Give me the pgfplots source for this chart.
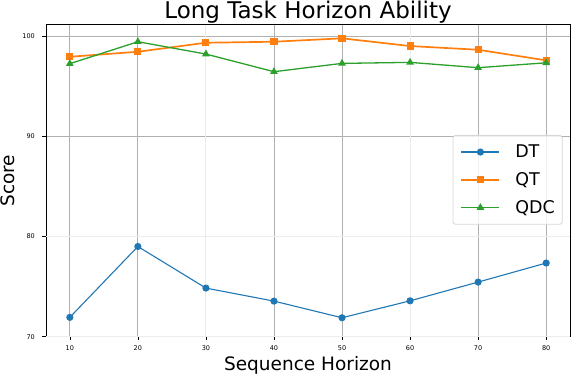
\documentclass[border=0pt]{standalone}
\usepackage{fontspec}
\setmainfont{DejaVu Sans}
\usepackage{pgfplots}
\pgfplotsset{compat=1.18}
\definecolor{tabblue}{HTML}{1F77B4}
\definecolor{taborange}{HTML}{FF7F0E}
\definecolor{tabgreen}{HTML}{2CA02C}
\definecolor{gridgray}{HTML}{B0B0B0}
\definecolor{faintgray}{HTML}{ECECEC}
\definecolor{legendgray}{HTML}{D6D6D6}
\begin{document}
\begin{tikzpicture}
\begin{axis}[
  at={(0,0)}, anchor=south west,
  scale only axis, width=524pt, height=312pt,
  xmin=6.5, xmax=83.5, ymin=70, ymax=101.13,
  xtick={10,20,40,50,70,80}, extra x ticks={30,60},
  ytick={90,100}, extra y ticks={70,80},
  grid=major,
  major grid style={gridgray, line width=0.9pt},
  extra x tick style={major grid style={faintgray, line width=0.9pt}},
  extra y tick style={major grid style={faintgray, line width=0.9pt}},
  tick align=outside, tick pos=left, major tick length=3.5pt,
  tick style={black, line width=0.6pt},
  axis line style={black, line width=0.8pt},
  /pgf/number format/assume math mode=true,
  ticklabel style={font=\fontsize{6.5}{7}\selectfont, inner sep=0pt},
  xticklabel style={anchor=north, yshift=-4.8pt},
  yticklabel style={anchor=east, xshift=-7.5pt},
  title={Long Task Horizon Ability},
  title style={font=\fontsize{23}{27}\selectfont, at={(axis description cs:0.5,1)}, anchor=base, yshift=0.4pt},
  xlabel={Sequence Horizon},
  xlabel style={font=\fontsize{18.5}{22}\selectfont, at={(axis description cs:0.5,-0.1075)}, anchor=base},
  ylabel={Score},
  ylabel style={font=\fontsize{18.5}{22}\selectfont, at={(axis description cs:-0.0735,0.5)}, anchor=center},
  legend cell align=left,
  legend image code/.code={\draw[mark repeat=2, mark phase=2, fill opacity=1, #1] plot coordinates {(0pt,0pt) (19pt,0pt) (38pt,0pt)};},
  legend style={at={(axis description cs:0.7761,0.6465)}, anchor=north west,
    draw=legendgray, line width=0.8pt, rounded corners=2.5pt, fill=white, fill opacity=0.8, text opacity=1,
    font=\fontsize{17.5}{21}\selectfont, inner xsep=7.5pt, inner ysep=9.5pt,
    row sep=13.5pt, column sep=15pt,
    nodes={inner sep=0pt, text height=12.8pt, text depth=1.5pt}},
]
\addplot[color=tabblue, line width=1.1pt, mark=*, mark size=3pt, mark options={solid}] coordinates {
  (10,71.93) (20,79.0) (30,74.85) (40,73.55) (50,71.89) (60,73.58) (70,75.45) (80,77.35)};
\addlegendentry{DT}
\addplot[color=taborange, line width=1.7pt, mark=square*, mark size=2.7pt, mark options={solid}] coordinates {
  (10,97.93) (20,98.43) (30,99.33) (40,99.43) (50,99.77) (60,99.0) (70,98.63) (80,97.57)};
\addlegendentry{QT}
\addplot[color=tabgreen, line width=1.3pt, mark=triangle*, mark size=3.2pt, mark options={solid}] coordinates {
  (10,97.24) (20,99.43) (30,98.2) (40,96.44) (50,97.27) (60,97.37) (70,96.84) (80,97.33)};
\addlegendentry{QDC}
\draw[faintgray, line width=1pt] (rel axis cs:0,0) -- (rel axis cs:1,0);
\end{axis}
\pgfresetboundingbox
\useasboundingbox (-46pt,-37.3pt) rectangle (526pt,336.7pt);
\end{tikzpicture}
\end{document}
